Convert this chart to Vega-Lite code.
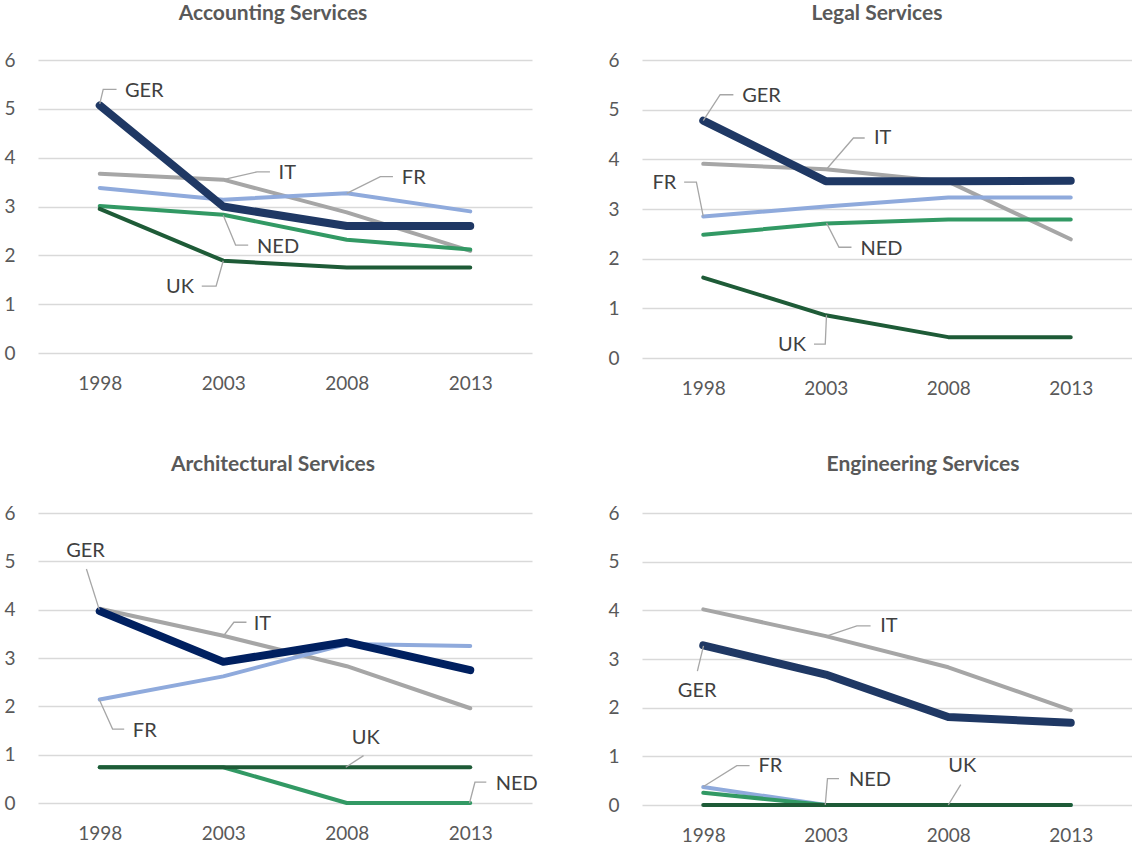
{
"$schema": "https://vega.github.io/schema/vega-lite/v6.json",
"padding": {"left": 3, "top": 3, "right": 0, "bottom": 0},
"columns": 2,
"bounds": "flush",
"spacing": {"row": 155, "column": 110},
"datasets": {
"series": [
{"panel":"Accounting","country":"IT","year":1998,"value":3.67},{"panel":"Accounting","country":"IT","year":2003,"value":3.55},{"panel":"Accounting","country":"IT","year":2008,"value":2.88},{"panel":"Accounting","country":"IT","year":2013,"value":2.09},
{"panel":"Accounting","country":"FR","year":1998,"value":3.38},{"panel":"Accounting","country":"FR","year":2003,"value":3.14},{"panel":"Accounting","country":"FR","year":2008,"value":3.27},{"panel":"Accounting","country":"FR","year":2013,"value":2.90},
{"panel":"Accounting","country":"NED","year":1998,"value":3.01},{"panel":"Accounting","country":"NED","year":2003,"value":2.83},{"panel":"Accounting","country":"NED","year":2008,"value":2.32},{"panel":"Accounting","country":"NED","year":2013,"value":2.12},
{"panel":"Accounting","country":"UK","year":1998,"value":2.95},{"panel":"Accounting","country":"UK","year":2003,"value":1.89},{"panel":"Accounting","country":"UK","year":2008,"value":1.75},{"panel":"Accounting","country":"UK","year":2013,"value":1.75},
{"panel":"Accounting","country":"GER","year":1998,"value":5.07},{"panel":"Accounting","country":"GER","year":2003,"value":3.00},{"panel":"Accounting","country":"GER","year":2008,"value":2.60},{"panel":"Accounting","country":"GER","year":2013,"value":2.60},
{"panel":"Legal","country":"IT","year":1998,"value":3.91},{"panel":"Legal","country":"IT","year":2003,"value":3.80},{"panel":"Legal","country":"IT","year":2008,"value":3.55},{"panel":"Legal","country":"IT","year":2013,"value":2.39},
{"panel":"Legal","country":"FR","year":1998,"value":2.85},{"panel":"Legal","country":"FR","year":2003,"value":3.05},{"panel":"Legal","country":"FR","year":2008,"value":3.23},{"panel":"Legal","country":"FR","year":2013,"value":3.23},
{"panel":"Legal","country":"NED","year":1998,"value":2.48},{"panel":"Legal","country":"NED","year":2003,"value":2.71},{"panel":"Legal","country":"NED","year":2008,"value":2.79},{"panel":"Legal","country":"NED","year":2013,"value":2.79},
{"panel":"Legal","country":"UK","year":1998,"value":1.62},{"panel":"Legal","country":"UK","year":2003,"value":0.86},{"panel":"Legal","country":"UK","year":2008,"value":0.42},{"panel":"Legal","country":"UK","year":2013,"value":0.42},
{"panel":"Legal","country":"GER","year":1998,"value":4.78},{"panel":"Legal","country":"GER","year":2003,"value":3.56},{"panel":"Legal","country":"GER","year":2008,"value":3.56},{"panel":"Legal","country":"GER","year":2013,"value":3.57},
{"panel":"Architectural","country":"IT","year":1998,"value":4.02},{"panel":"Architectural","country":"IT","year":2003,"value":3.46},{"panel":"Architectural","country":"IT","year":2008,"value":2.83},{"panel":"Architectural","country":"IT","year":2013,"value":1.96},
{"panel":"Architectural","country":"FR","year":1998,"value":2.14},{"panel":"Architectural","country":"FR","year":2003,"value":2.62},{"panel":"Architectural","country":"FR","year":2008,"value":3.29},{"panel":"Architectural","country":"FR","year":2013,"value":3.25},
{"panel":"Architectural","country":"NED","year":1998,"value":0.74},{"panel":"Architectural","country":"NED","year":2003,"value":0.74},{"panel":"Architectural","country":"NED","year":2008,"value":0},{"panel":"Architectural","country":"NED","year":2013,"value":0},
{"panel":"Architectural","country":"UK","year":1998,"value":0.74},{"panel":"Architectural","country":"UK","year":2003,"value":0.74},{"panel":"Architectural","country":"UK","year":2008,"value":0.74},{"panel":"Architectural","country":"UK","year":2013,"value":0.74},
{"panel":"Architectural","country":"GER","year":1998,"value":3.97},{"panel":"Architectural","country":"GER","year":2003,"value":2.92},{"panel":"Architectural","country":"GER","year":2008,"value":3.33},{"panel":"Architectural","country":"GER","year":2013,"value":2.75},
{"panel":"Engineering","country":"IT","year":1998,"value":4.02},{"panel":"Engineering","country":"IT","year":2003,"value":3.47},{"panel":"Engineering","country":"IT","year":2008,"value":2.83},{"panel":"Engineering","country":"IT","year":2013,"value":1.95},
{"panel":"Engineering","country":"FR","year":1998,"value":0.37},{"panel":"Engineering","country":"FR","year":2003,"value":0},{"panel":"Engineering","country":"FR","year":2008,"value":0},{"panel":"Engineering","country":"FR","year":2013,"value":0},
{"panel":"Engineering","country":"NED","year":1998,"value":0.25},{"panel":"Engineering","country":"NED","year":2003,"value":0},{"panel":"Engineering","country":"NED","year":2008,"value":0},{"panel":"Engineering","country":"NED","year":2013,"value":0},
{"panel":"Engineering","country":"UK","year":1998,"value":0},{"panel":"Engineering","country":"UK","year":2003,"value":0},{"panel":"Engineering","country":"UK","year":2008,"value":0},{"panel":"Engineering","country":"UK","year":2013,"value":0},
{"panel":"Engineering","country":"GER","year":1998,"value":3.28},{"panel":"Engineering","country":"GER","year":2003,"value":2.68},{"panel":"Engineering","country":"GER","year":2008,"value":1.81},{"panel":"Engineering","country":"GER","year":2013,"value":1.69}
],
"leaders": [
{"panel":"Accounting","id":"GER","seq":1,"year":1998.0,"value":5.10},{"panel":"Accounting","id":"GER","seq":2,"year":1998.14,"value":5.40},{"panel":"Accounting","id":"GER","seq":3,"year":1998.68,"value":5.40},
{"panel":"Accounting","id":"IT","seq":1,"year":2003.0,"value":3.55},{"panel":"Accounting","id":"IT","seq":2,"year":2004.37,"value":3.71},{"panel":"Accounting","id":"IT","seq":3,"year":2004.89,"value":3.71},
{"panel":"Accounting","id":"FR","seq":1,"year":2008.0,"value":3.27},{"panel":"Accounting","id":"FR","seq":2,"year":2009.36,"value":3.61},{"panel":"Accounting","id":"FR","seq":3,"year":2009.87,"value":3.61},
{"panel":"Accounting","id":"NED","seq":1,"year":2003.0,"value":2.82},{"panel":"Accounting","id":"NED","seq":2,"year":2003.5,"value":2.21},{"panel":"Accounting","id":"NED","seq":3,"year":2004.01,"value":2.21},
{"panel":"Accounting","id":"UK","seq":1,"year":2003.0,"value":1.89},{"panel":"Accounting","id":"UK","seq":2,"year":2002.71,"value":1.37},{"panel":"Accounting","id":"UK","seq":3,"year":2002.13,"value":1.37},
{"panel":"Legal","id":"GER","seq":1,"year":1998.0,"value":4.78},{"panel":"Legal","id":"GER","seq":2,"year":1998.69,"value":5.30},{"panel":"Legal","id":"GER","seq":3,"year":1999.23,"value":5.30},
{"panel":"Legal","id":"IT","seq":1,"year":2003.03,"value":3.80},{"panel":"Legal","id":"IT","seq":2,"year":2004.13,"value":4.43},{"panel":"Legal","id":"IT","seq":3,"year":2004.59,"value":4.43},
{"panel":"Legal","id":"FR","seq":1,"year":1998.0,"value":2.85},{"panel":"Legal","id":"FR","seq":2,"year":1997.72,"value":3.54},{"panel":"Legal","id":"FR","seq":3,"year":1997.22,"value":3.54},
{"panel":"Legal","id":"NED","seq":1,"year":2003.03,"value":2.72},{"panel":"Legal","id":"NED","seq":2,"year":2003.54,"value":2.23},{"panel":"Legal","id":"NED","seq":3,"year":2004.05,"value":2.23},
{"panel":"Legal","id":"UK","seq":1,"year":2003.03,"value":0.86},{"panel":"Legal","id":"UK","seq":2,"year":2002.98,"value":0.28},{"panel":"Legal","id":"UK","seq":3,"year":2002.52,"value":0.28},
{"panel":"Architectural","id":"GER","seq":1,"year":1997.98,"value":4.00},{"panel":"Architectural","id":"GER","seq":2,"year":1997.46,"value":4.84},
{"panel":"Architectural","id":"IT","seq":1,"year":2003.0,"value":3.45},{"panel":"Architectural","id":"IT","seq":2,"year":2003.43,"value":3.74},{"panel":"Architectural","id":"IT","seq":3,"year":2003.94,"value":3.74},
{"panel":"Architectural","id":"FR","seq":1,"year":1997.98,"value":2.14},{"panel":"Architectural","id":"FR","seq":2,"year":1998.52,"value":1.53},{"panel":"Architectural","id":"FR","seq":3,"year":1998.99,"value":1.53},
{"panel":"Architectural","id":"UK","seq":1,"year":2007.96,"value":0.74},{"panel":"Architectural","id":"UK","seq":2,"year":2008.68,"value":0.98},
{"panel":"Architectural","id":"NED","seq":1,"year":2012.97,"value":0},{"panel":"Architectural","id":"NED","seq":2,"year":2013.19,"value":0.43},{"panel":"Architectural","id":"NED","seq":3,"year":2013.65,"value":0.43},
{"panel":"Engineering","id":"IT","seq":1,"year":2003.03,"value":3.47},{"panel":"Engineering","id":"IT","seq":2,"year":2004.27,"value":3.68},{"panel":"Engineering","id":"IT","seq":3,"year":2004.83,"value":3.68},
{"panel":"Engineering","id":"GER","seq":1,"year":1998.01,"value":3.27},{"panel":"Engineering","id":"GER","seq":2,"year":1997.76,"value":2.75},
{"panel":"Engineering","id":"FR","seq":1,"year":1998.01,"value":0.38},{"panel":"Engineering","id":"FR","seq":2,"year":1999.37,"value":0.81},{"panel":"Engineering","id":"FR","seq":3,"year":1999.89,"value":0.81},
{"panel":"Engineering","id":"NED","seq":1,"year":2002.98,"value":0},{"panel":"Engineering","id":"NED","seq":2,"year":2003.07,"value":0.54},{"panel":"Engineering","id":"NED","seq":3,"year":2003.54,"value":0.54},
{"panel":"Engineering","id":"UK","seq":1,"year":2008.0,"value":0},{"panel":"Engineering","id":"UK","seq":2,"year":2008.51,"value":0.42}
],
"labels": [
{"panel":"Accounting","text":"GER","year":1999.02,"value":5.37},
{"panel":"Accounting","text":"IT","year":2005.24,"value":3.68},
{"panel":"Accounting","text":"FR","year":2010.23,"value":3.58},
{"panel":"Accounting","text":"NED","year":2004.37,"value":2.17},
{"panel":"Accounting","text":"UK","year":2000.68,"value":1.35},
{"panel":"Legal","text":"GER","year":1999.59,"value":5.28},
{"panel":"Legal","text":"IT","year":2004.97,"value":4.42},
{"panel":"Legal","text":"FR","year":1995.93,"value":3.52},
{"panel":"Legal","text":"NED","year":2004.42,"value":2.20},
{"panel":"Legal","text":"UK","year":2001.05,"value":0.26},
{"panel":"Architectural","text":"GER","year":1996.64,"value":5.21},
{"panel":"Architectural","text":"IT","year":2004.23,"value":3.71},
{"panel":"Architectural","text":"FR","year":1999.34,"value":1.50},
{"panel":"Architectural","text":"UK","year":2008.2,"value":1.34},
{"panel":"Architectural","text":"NED","year":2014.03,"value":0.40},
{"panel":"Engineering","text":"IT","year":2005.22,"value":3.67},
{"panel":"Engineering","text":"GER","year":1996.96,"value":2.34},
{"panel":"Engineering","text":"FR","year":2000.25,"value":0.80},
{"panel":"Engineering","text":"NED","year":2003.95,"value":0.52},
{"panel":"Engineering","text":"UK","year":2008.0,"value":0.80}
]
},
"concat": [
{
"width": 494, "height": 293,
"title": {"text": "Accounting Services", "dx": -12, "offset": 27},
"layer": [
{"data": {"name": "series"}, "transform": [{"filter": "datum.panel === 'Accounting' && datum.country !== 'GER'"}],
 "mark": {"type": "line", "strokeWidth": 4, "strokeCap": "round", "strokeJoin": "round"},
 "encoding": {
  "x": {"field": "year", "type": "quantitative", "scale": {"domain": [1995.5, 2015.5], "nice": false, "zero": false}, "axis": {"values": [1998, 2003, 2008, 2013], "format": "d"}},
  "y": {"field": "value", "type": "quantitative", "scale": {"domain": [0, 6], "nice": false}},
  "color": {"field": "country", "type": "nominal", "scale": {"domain": ["IT", "FR", "NED", "UK"], "range": ["#A6A6A6", "#8FAADC", "#329964", "#1E5B37"]}, "legend": null}}},
{"data": {"name": "series"}, "transform": [{"filter": "datum.panel === 'Accounting' && datum.country === 'GER'"}],
 "mark": {"type": "line", "strokeWidth": 8, "strokeCap": "round", "strokeJoin": "round", "color": "#1F3864"},
 "encoding": {"x": {"field": "year", "type": "quantitative"}, "y": {"field": "value", "type": "quantitative"}}},
{"data": {"name": "leaders"}, "transform": [{"filter": "datum.panel === 'Accounting'"}],
 "mark": {"type": "line", "strokeWidth": 1.3, "color": "#A6A6A6"},
 "encoding": {"x": {"field": "year", "type": "quantitative"}, "y": {"field": "value", "type": "quantitative"}, "detail": {"field": "id"}, "order": {"field": "seq", "type": "quantitative"}}},
{"data": {"name": "labels"}, "transform": [{"filter": "datum.panel === 'Accounting'"}],
 "mark": {"type": "text", "align": "left", "baseline": "middle", "fontSize": 20, "font": "Lato", "color": "#404040"},
 "encoding": {"x": {"field": "year", "type": "quantitative"}, "y": {"field": "value", "type": "quantitative"}, "text": {"field": "text"}}}
]
},
{
"width": 490, "height": 298,
"title": {"text": "Legal Services", "dx": -10, "offset": 27},
"layer": [
{"data": {"name": "series"}, "transform": [{"filter": "datum.panel === 'Legal' && datum.country !== 'GER'"}],
 "mark": {"type": "line", "strokeWidth": 4, "strokeCap": "round", "strokeJoin": "round"},
 "encoding": {
  "x": {"field": "year", "type": "quantitative", "scale": {"domain": [1995.5, 2015.5], "nice": false, "zero": false}, "axis": {"values": [1998, 2003, 2008, 2013], "format": "d"}},
  "y": {"field": "value", "type": "quantitative", "scale": {"domain": [0, 6], "nice": false}},
  "color": {"field": "country", "type": "nominal", "scale": {"domain": ["IT", "FR", "NED", "UK"], "range": ["#A6A6A6", "#8FAADC", "#329964", "#1E5B37"]}, "legend": null}}},
{"data": {"name": "series"}, "transform": [{"filter": "datum.panel === 'Legal' && datum.country === 'GER'"}],
 "mark": {"type": "line", "strokeWidth": 8, "strokeCap": "round", "strokeJoin": "round", "color": "#1F3864"},
 "encoding": {"x": {"field": "year", "type": "quantitative"}, "y": {"field": "value", "type": "quantitative"}}},
{"data": {"name": "leaders"}, "transform": [{"filter": "datum.panel === 'Legal'"}],
 "mark": {"type": "line", "strokeWidth": 1.3, "color": "#A6A6A6"},
 "encoding": {"x": {"field": "year", "type": "quantitative"}, "y": {"field": "value", "type": "quantitative"}, "detail": {"field": "id"}, "order": {"field": "seq", "type": "quantitative"}}},
{"data": {"name": "labels"}, "transform": [{"filter": "datum.panel === 'Legal'"}],
 "mark": {"type": "text", "align": "left", "baseline": "middle", "fontSize": 20, "font": "Lato", "color": "#404040"},
 "encoding": {"x": {"field": "year", "type": "quantitative"}, "y": {"field": "value", "type": "quantitative"}, "text": {"field": "text"}}}
]
},
{
"width": 494, "height": 290,
"title": {"text": "Architectural Services", "dx": -12, "offset": 29},
"layer": [
{"data": {"name": "series"}, "transform": [{"filter": "datum.panel === 'Architectural' && datum.country !== 'GER'"}],
 "mark": {"type": "line", "strokeWidth": 4, "strokeCap": "round", "strokeJoin": "round"},
 "encoding": {
  "x": {"field": "year", "type": "quantitative", "scale": {"domain": [1995.5, 2015.5], "nice": false, "zero": false}, "axis": {"values": [1998, 2003, 2008, 2013], "format": "d"}},
  "y": {"field": "value", "type": "quantitative", "scale": {"domain": [0, 6], "nice": false}},
  "color": {"field": "country", "type": "nominal", "scale": {"domain": ["IT", "FR", "NED", "UK"], "range": ["#A6A6A6", "#8FAADC", "#329964", "#1E5B37"]}, "legend": null}}},
{"data": {"name": "series"}, "transform": [{"filter": "datum.panel === 'Architectural' && datum.country === 'GER'"}],
 "mark": {"type": "line", "strokeWidth": 8, "strokeCap": "round", "strokeJoin": "round", "color": "#002060"},
 "encoding": {"x": {"field": "year", "type": "quantitative"}, "y": {"field": "value", "type": "quantitative"}}},
{"data": {"name": "leaders"}, "transform": [{"filter": "datum.panel === 'Architectural'"}],
 "mark": {"type": "line", "strokeWidth": 1.3, "color": "#A6A6A6"},
 "encoding": {"x": {"field": "year", "type": "quantitative"}, "y": {"field": "value", "type": "quantitative"}, "detail": {"field": "id"}, "order": {"field": "seq", "type": "quantitative"}}},
{"data": {"name": "labels"}, "transform": [{"filter": "datum.panel === 'Architectural'"}],
 "mark": {"type": "text", "align": "left", "baseline": "middle", "fontSize": 20, "font": "Lato", "color": "#404040"},
 "encoding": {"x": {"field": "year", "type": "quantitative"}, "y": {"field": "value", "type": "quantitative"}, "text": {"field": "text"}}}
]
},
{
"width": 490, "height": 292,
"title": {"text": "Engineering Services", "dx": 36, "offset": 29},
"layer": [
{"data": {"name": "series"}, "transform": [{"filter": "datum.panel === 'Engineering' && datum.country !== 'GER'"}],
 "mark": {"type": "line", "strokeWidth": 4, "strokeCap": "round", "strokeJoin": "round"},
 "encoding": {
  "x": {"field": "year", "type": "quantitative", "scale": {"domain": [1995.5, 2015.5], "nice": false, "zero": false}, "axis": {"values": [1998, 2003, 2008, 2013], "format": "d"}},
  "y": {"field": "value", "type": "quantitative", "scale": {"domain": [0, 6], "nice": false}},
  "color": {"field": "country", "type": "nominal", "scale": {"domain": ["IT", "FR", "NED", "UK"], "range": ["#A6A6A6", "#8FAADC", "#329964", "#1E5B37"]}, "legend": null}}},
{"data": {"name": "series"}, "transform": [{"filter": "datum.panel === 'Engineering' && datum.country === 'GER'"}],
 "mark": {"type": "line", "strokeWidth": 8, "strokeCap": "round", "strokeJoin": "round", "color": "#1F3864"},
 "encoding": {"x": {"field": "year", "type": "quantitative"}, "y": {"field": "value", "type": "quantitative"}}},
{"data": {"name": "leaders"}, "transform": [{"filter": "datum.panel === 'Engineering'"}],
 "mark": {"type": "line", "strokeWidth": 1.3, "color": "#A6A6A6"},
 "encoding": {"x": {"field": "year", "type": "quantitative"}, "y": {"field": "value", "type": "quantitative"}, "detail": {"field": "id"}, "order": {"field": "seq", "type": "quantitative"}}},
{"data": {"name": "labels"}, "transform": [{"filter": "datum.panel === 'Engineering'"}],
 "mark": {"type": "text", "align": "left", "baseline": "middle", "fontSize": 20, "font": "Lato", "color": "#404040"},
 "encoding": {"x": {"field": "year", "type": "quantitative"}, "y": {"field": "value", "type": "quantitative"}, "text": {"field": "text"}}}
]
}
],
"config": {
"view": {"stroke": null},
"font": "Lato",
"axis": {"labelFont": "Lato", "labelFontSize": 19, "labelColor": "#595959", "ticks": false, "tickSize": 0, "domain": false, "title": null},
"axisY": {"grid": true, "gridColor": "#D9D9D9", "gridWidth": 1.5, "labelPadding": 23, "values": [0, 1, 2, 3, 4, 5, 6]},
"axisX": {"grid": false, "labelPadding": 21},
"title": {"font": "Lato", "fontSize": 21, "fontWeight": "bold", "color": "#595959", "anchor": "middle", "frame": "group", "baseline": "alphabetic"}
}
}
